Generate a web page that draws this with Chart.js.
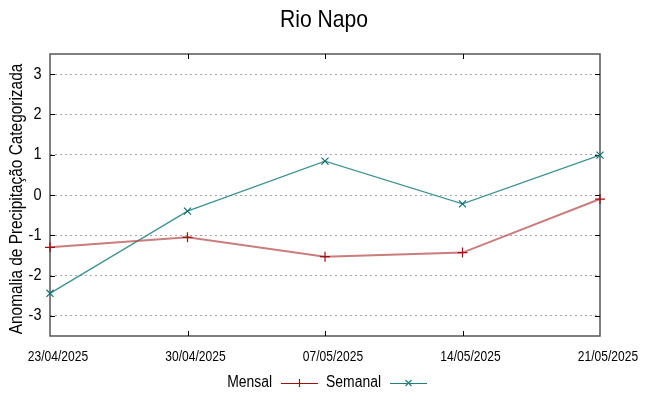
<!DOCTYPE html>
<html><head><meta charset="utf-8">
<script src="https://cdn.jsdelivr.net/npm/chart.js@4/dist/chart.umd.min.js"></script>
<style>html,body{margin:0;padding:0;background:#fff}#wrap{width:648px;height:396px}</style>
</head><body><div id="wrap"><canvas id="c" width="648" height="396"></canvas></div>
<script>
const chartTitle = "Rio Napo";
const yAxisTitle = "Anomalia de Precipitação Categorizada";
const dates = ["23/04/2025","30/04/2025","07/05/2025","14/05/2025","21/05/2025"];
const mensal = [-1.30, -1.05, -1.53, -1.43, -0.10];
const semanal = [-2.44, -0.40, 0.84, -0.22, 0.99];
const yTicks = [-3,-2,-1,0,1,2,3];
const seriesNames = ["Mensal","Semanal"];

const SANS = '"Liberation Sans", Arial, sans-serif';
const SX = 0.88;

function narrowText(ctx, text, x, y, align, sx) {
  ctx.save();
  ctx.translate(x, y);
  ctx.scale(sx, 1);
  ctx.textAlign = align;
  ctx.fillText(text, 0, 0);
  ctx.restore();
}

const extras = {
  id: 'extras',
  beforeDatasetsDraw(chart) {
    const ctx = chart.ctx, a = chart.chartArea;
    ctx.save();
    ctx.strokeStyle = '#555';
    ctx.lineWidth = 1.5;
    ctx.strokeRect(a.left, a.top, a.right - a.left, a.bottom - a.top);
    ctx.strokeStyle = '#000';
    ctx.lineWidth = 1;
    const xs = chart.scales.x, ys = chart.scales.y;
    ctx.beginPath();
    dates.forEach((d, i) => {
      const x = Math.round(xs.getPixelForValue(i)) + 0.5;
      if (i > 0 && i < dates.length - 1) {
        ctx.moveTo(x, a.bottom); ctx.lineTo(x, a.bottom - 5);
        ctx.moveTo(x, a.top); ctx.lineTo(x, a.top + 5);
      }
    });
    yTicks.forEach(v => {
      const y = Math.round(ys.getPixelForValue(v)) + 0.5;
      ctx.moveTo(a.left, y); ctx.lineTo(a.left + 5, y);
      ctx.moveTo(a.right, y); ctx.lineTo(a.right - 5, y);
    });
    ctx.stroke();
    ctx.restore();
  },
  afterDraw(chart) {
    const ctx = chart.ctx, a = chart.chartArea;
    const xs = chart.scales.x, ys = chart.scales.y;
    ctx.save();
    ctx.fillStyle = '#000';
    ctx.textBaseline = 'middle';
    ctx.font = '24px ' + SANS;
    narrowText(ctx, chartTitle, 324, 20, 'center', SX);
    ctx.save();
    ctx.translate(17, 199);
    ctx.rotate(-Math.PI / 2);
    ctx.font = '17.5px ' + SANS;
    narrowText(ctx, yAxisTitle, 0, 0, 'center', SX);
    ctx.restore();
    ctx.font = '16.5px ' + SANS;
    yTicks.forEach(v => {
      narrowText(ctx, String(v), 41.5, ys.getPixelForValue(v), 'right', SX);
    });
    ctx.font = '14px ' + SANS;
    dates.forEach((d, i) => {
      narrowText(ctx, d, xs.getPixelForValue(i) + 8, 357, 'center', 0.86);
    });
    const ly = 383;
    ctx.font = '16px ' + SANS;
    const items = [
      {label: seriesNames[0], tx: 272, x0: 281, x1: 318, color: '#a01010', mark: '+'},
      {label: seriesNames[1], tx: 381, x0: 390, x1: 427, color: '#208080', mark: 'x'}
    ];
    items.forEach(it => {
      ctx.fillStyle = '#000';
      narrowText(ctx, it.label, it.tx, ly, 'right', 0.87);
      ctx.strokeStyle = it.color;
      ctx.lineWidth = 1.2;
      ctx.beginPath();
      ctx.moveTo(it.x0, ly + 0.5); ctx.lineTo(it.x1, ly + 0.5);
      const cx = (it.x0 + it.x1) / 2;
      if (it.mark === '+') {
        ctx.moveTo(cx, ly - 4); ctx.lineTo(cx, ly + 4);
      } else {
        ctx.moveTo(cx - 3, ly - 3); ctx.lineTo(cx + 3, ly + 3);
        ctx.moveTo(cx - 3, ly + 3); ctx.lineTo(cx + 3, ly - 3);
      }
      ctx.stroke();
    });
    ctx.restore();
  }
};

new Chart(document.getElementById('c'), {
  type: 'line',
  data: {
    labels: dates,
    datasets: [
      {label: seriesNames[0], data: mensal, borderColor: 'rgba(180,70,70,0.7)', borderWidth: 2,
       pointStyle: 'cross', pointRadius: 5, pointBorderColor: '#a01010', pointBackgroundColor: '#a01010',
       pointBorderWidth: 1.2, tension: 0},
      {label: seriesNames[1], data: semanal, borderColor: 'rgba(32,128,128,0.85)', borderWidth: 1.4,
       pointStyle: 'crossRot', pointRadius: 5, pointBorderColor: '#107070', pointBackgroundColor: '#107070',
       pointBorderWidth: 1.2, tension: 0}
    ]
  },
  options: {
    responsive: false,
    animation: false,
    layout: {padding: {top: 54, right: 48, left: 0, bottom: 0}},
    plugins: {legend: {display: false}, title: {display: false}, tooltip: {enabled: false}},
    scales: {
      x: {
        type: 'category', offset: false,
        grid: {display: false, drawTicks: false},
        border: {display: false},
        ticks: {display: false},
        afterFit(s) { s.height = 60; }
      },
      y: {
        min: -3.5, max: 3.5,
        afterBuildTicks(s) { s.ticks = yTicks.map(v => ({value: v})); },
        grid: {color: '#a8a8a8', lineWidth: 1, drawTicks: false},
        border: {display: false, dash: [2, 3]},
        ticks: {display: false},
        afterFit(s) { s.width = 50; }
      }
    }
  },
  plugins: [extras]
});
</script></body></html>
